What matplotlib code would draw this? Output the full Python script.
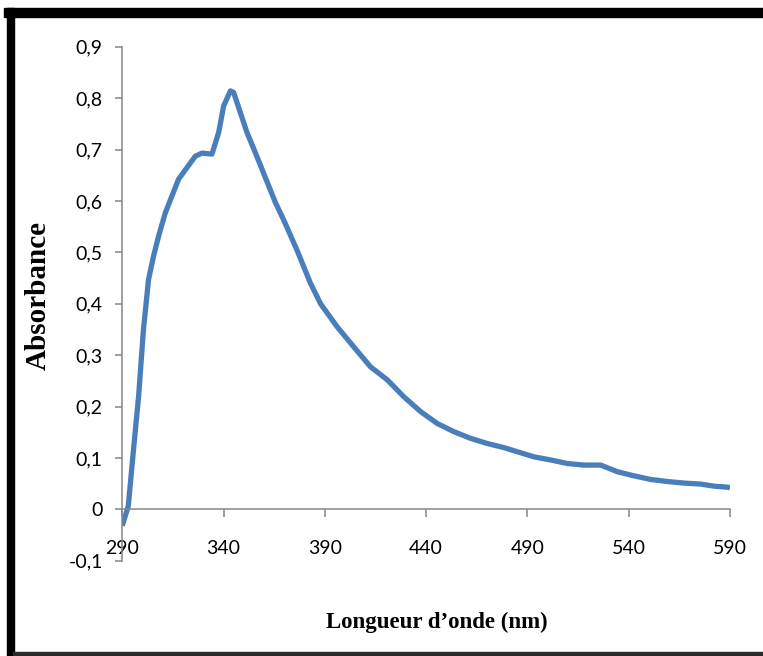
import matplotlib
matplotlib.use("Agg")
from matplotlib import pyplot as plt
from matplotlib.patches import Rectangle
from matplotlib.ticker import FixedLocator, FixedFormatter

# spectrum
wavelength = [290, 293, 295.6, 298.1, 300.5, 303, 305.5, 308, 311.3, 314.6, 317.8,
              322, 326.1, 329.4, 334.3, 337.6, 340.1, 343.4, 345, 348.3, 351.6,
              355.7, 360.7, 365.6, 369.7, 376.3, 382.9, 387.9, 396.1, 404.3, 412.6,
              420.8, 429, 437.3, 445.5, 453.7, 462, 470.2, 478.4, 485, 493.3, 501.5,
              509.8, 518, 526.2, 534.5, 542.7, 551, 559.2, 567.4, 575.6, 582.2,
              588.8, 590]
absorbance = [-0.032, 0.006, 0.117, 0.22, 0.35, 0.447, 0.493, 0.532, 0.577, 0.61,
              0.642, 0.665, 0.687, 0.693, 0.691, 0.733, 0.785, 0.814, 0.811, 0.772,
              0.733, 0.694, 0.645, 0.597, 0.563, 0.504, 0.44, 0.40, 0.355, 0.316,
              0.277, 0.252, 0.219, 0.19, 0.167, 0.151, 0.138, 0.128, 0.12, 0.112,
              0.102, 0.096, 0.089, 0.086, 0.086, 0.073, 0.065, 0.058, 0.054, 0.051,
              0.049, 0.045, 0.043, 0.042]

x_ticks = [290, 340, 390, 440, 490, 540, 590]
y_ticks = [-0.1, 0, 0.1, 0.2, 0.3, 0.4, 0.5, 0.6, 0.7, 0.8, 0.9]
y_tick_labels = ["-0,1", "0", "0,1", "0,2", "0,3", "0,4", "0,5", "0,6", "0,7", "0,8", "0,9"]

W, H = 763, 656
fig = plt.figure(figsize=(W / 100, H / 100), dpi=100)
ax = fig.add_axes([122.2 / W, 1 - 560.7 / H, (730 - 122.2) / W, (560.7 - 46.7) / H])

ax.plot(wavelength, absorbance, color='#4a7ebb', linewidth=3.8, solid_capstyle='butt')

ax.set_xlim(290, 590)
ax.set_ylim(-0.1, 0.9)

axis_grey = '#868686'
for side in ['top', 'right']:
    ax.spines[side].set_visible(False)
ax.spines['left'].set_color(axis_grey)
ax.spines['left'].set_linewidth(1.1)
ax.spines['bottom'].set_position(('data', 0))
ax.spines['bottom'].set_color(axis_grey)
ax.spines['bottom'].set_linewidth(1.1)

ax.xaxis.set_major_locator(FixedLocator(x_ticks))
ax.xaxis.set_major_formatter(FixedFormatter([str(t) for t in x_ticks]))
ax.yaxis.set_major_locator(FixedLocator(y_ticks))
ax.yaxis.set_major_formatter(FixedFormatter(y_tick_labels))

ax.tick_params(axis='x', direction='out', length=5.8, width=1.1, color=axis_grey,
               pad=16.5, labelcolor='black')
ax.tick_params(axis='y', direction='out', length=5, width=1.1, color=axis_grey,
               pad=9, labelcolor='black')
for lbl in ax.get_xticklabels() + ax.get_yticklabels():
    lbl.set_fontfamily('Lato')
    lbl.set_fontsize(14)

fig.text(437 / W, 1 - 622 / H, "Longueur d’onde (nm)", family='Liberation Serif',
         weight='bold', size=16.5, ha='center', va='center')
fig.text(38 / W, 1 - 296 / H, "Absorbance", family='Liberation Serif',
         weight='bold', size=21, rotation=90, ha='center', va='center')

# black frame around the chart (top and left thick, thin line at the bottom)
fig.patches.append(Rectangle((4 / W, 1 - 16.5 / H), (W - 4) / W, 8.5 / H,
                             transform=fig.transFigure, color='black', zorder=5))
fig.patches.append(Rectangle((6.5 / W, 0), 7.5 / W, 1 - 8 / H,
                             transform=fig.transFigure, color='black', zorder=5))
fig.patches.append(Rectangle((13 / W, 1.5 / H), (W - 13) / W, 2.5 / H,
                             transform=fig.transFigure, color='#2b2b2b', zorder=5))

fig.savefig('out.png', dpi=100)
